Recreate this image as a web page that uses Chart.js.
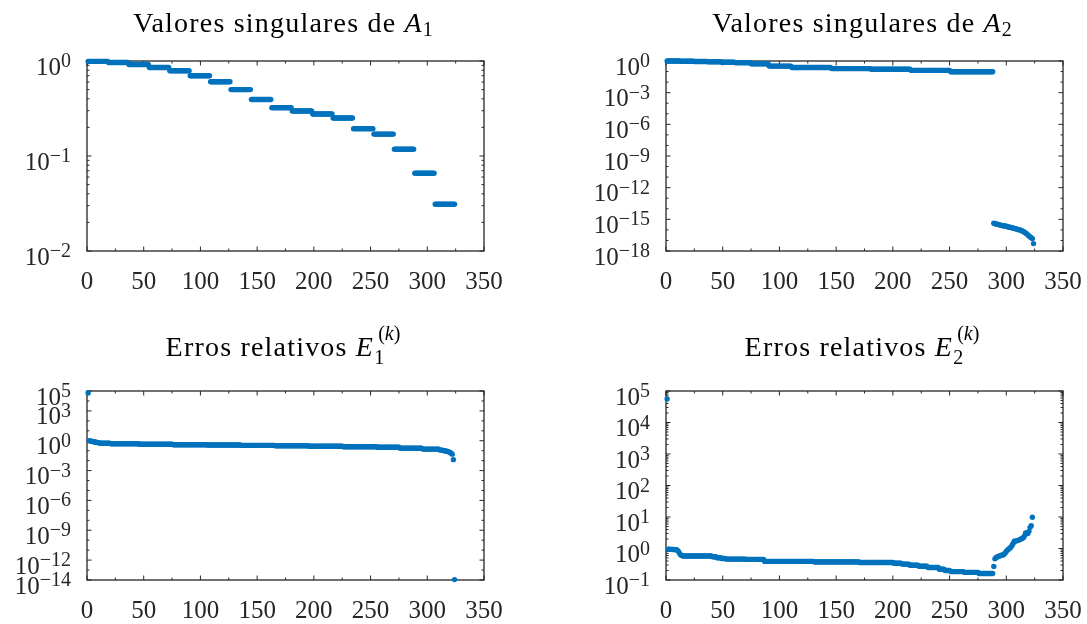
<!DOCTYPE html>
<html>
<head>
<meta charset="utf-8">
<script src="https://cdn.jsdelivr.net/npm/chart.js@4.4.1/dist/chart.umd.min.js"></script>
<style>
  body { margin: 0; background: #fff; }
  #wrap { position: relative; width: 1087px; height: 624px; overflow: hidden; }
  canvas { position: absolute; }
  .ttl { position: absolute; font-family: "Liberation Serif", serif; font-size: 28px; line-height: 28px;
         white-space: nowrap; color: #000; transform: translateX(-50%); letter-spacing: 1.2px; }
  .sb, .sp { font-size: 20px; position: relative; letter-spacing: 0; }
  .sb { top: 4px; }
  .sp { top: -16px; }
</style>
</head>
<body>
<div id="wrap">
  <canvas id="c1" width="543" height="312" style="left:0;top:0"></canvas>
  <canvas id="c2" width="544" height="312" style="left:543px;top:0"></canvas>
  <canvas id="c3" width="543" height="312" style="left:0;top:312px"></canvas>
  <canvas id="c4" width="544" height="312" style="left:543px;top:312px"></canvas>
  <div class="ttl" style="left:283px;top:9px">Valores singulares de <i>A</i><span class="sb">1</span></div>
  <div class="ttl" style="left:862px;top:9px">Valores singulares de <i>A</i><span class="sb">2</span></div>
  <div class="ttl" style="left:283px;top:333px">Erros relativos <i>E</i><span class="sb" style="top:8px">1</span><span class="sp" style="margin-left:-6px">(<i>k</i>)</span></div>
  <div class="ttl" style="left:862px;top:333px">Erros relativos <i>E</i><span class="sb" style="top:8px">2</span><span class="sp" style="margin-left:-6px">(<i>k</i>)</span></div>
</div>
<script>
// ticks do eixo x (igual nos 4 graficos)
const xTicks = [0, 50, 100, 150, 200, 250, 300, 350];
const xMinor = [25, 75, 125, 175, 225, 275, 325];

// valores singulares de A1: 18 patamares com 18 valores cada
const a1Count = [18, 18, 18, 18, 18, 18, 18, 18, 18, 18, 18, 18, 18, 18, 18, 18, 18, 18];
const a1Value = [0.99, 0.965, 0.92, 0.855, 0.79, 0.70, 0.605, 0.50, 0.393, 0.323, 0.298, 0.277,
                 0.251, 0.194, 0.170, 0.118, 0.066, 0.031];

// valores singulares de A2
const a2Count = [12, 12, 12, 12, 12, 14, 16, 20, 35, 35, 35, 35, 38,
                 1, 1, 1, 1, 1, 1, 1, 1, 1, 1, 1, 1, 1, 1, 1, 1, 1, 1, 1, 1,
                 1, 1, 1, 1, 1, 1, 1, 1, 1, 1, 1, 1, 1, 1, 1, 1];
const a2Value = [1.0, 0.95, 0.9, 0.85, 0.78, 0.70, 0.55, 0.33, 0.24, 0.19, 0.165, 0.13, 0.095,
                 4.2e-16, 3.9e-16, 3.6e-16, 3.4e-16, 3.2e-16, 3.0e-16, 2.8e-16, 2.7e-16,
                 2.5e-16, 2.4e-16, 2.3e-16, 2.2e-16, 2.0e-16, 1.9e-16, 1.8e-16, 1.7e-16,
                 1.6e-16, 1.5e-16, 1.4e-16, 1.3e-16, 1.2e-16, 1.1e-16, 1.05e-16, 1.0e-16,
                 9e-17, 8e-17, 7e-17, 6e-17, 5e-17, 4.2e-17, 3.4e-17, 2.7e-17, 2.2e-17,
                 1.8e-17, 1.5e-17, 5e-18];

// erros relativos E1
const e1Count = [1, 1, 1, 1, 1, 1, 1, 1, 1, 1, 1, 1, 8, 25, 30, 30, 30, 30, 30, 30, 30, 20, 20, 15,
                 1, 1, 1, 1, 1, 1, 1, 1, 1, 1, 1, 1, 1, 1];
const e1Value = [6.3e4, 1.0, 0.95, 0.9, 0.85, 0.8, 0.75, 0.7, 0.66, 0.63, 0.6, 0.58, 0.56, 0.50,
                 0.45, 0.40, 0.37, 0.34, 0.31, 0.28, 0.25, 0.22, 0.18, 0.145,
                 0.12, 0.115, 0.11, 0.105, 0.10, 0.095, 0.09, 0.085, 0.075, 0.065, 0.055,
                 0.045, 0.0125, 1.1e-14];

// erros relativos E2
const e2Count = [1, 1, 1, 1, 1, 1, 1, 1, 1, 1, 1, 1, 1, 1, 26, 4, 4, 4, 18, 16, 44, 40, 30, 7, 7,
                 8, 8, 10, 5, 5, 12, 13, 13,
                 1, 1, 1, 1, 1, 1, 1, 1, 1, 1, 1, 1, 1, 1, 1, 1, 1, 1,
                 1, 1, 1, 1, 1, 1, 1, 1, 1, 1, 1, 1, 1, 1, 1, 1, 1];
const e2Value = [5.6e4, 0.95, 0.95, 0.94, 0.94, 0.93, 0.93, 0.92, 0.91, 0.88, 0.8, 0.7, 0.62, 0.6,
                 0.575, 0.55, 0.51, 0.48, 0.46, 0.45, 0.39, 0.375, 0.36, 0.34, 0.32,
                 0.295, 0.275, 0.25, 0.22, 0.20, 0.185, 0.175, 0.16,
                 0.27, 0.47, 0.52, 0.54, 0.56, 0.58, 0.6, 0.61, 0.62, 0.66, 0.72, 0.8, 0.89,
                 0.95, 1.02, 1.09, 1.25, 1.45, 1.7, 1.72, 1.75, 1.78, 1.85, 1.92, 2.0, 2.1,
                 2.2, 2.5, 3.1, 3.05, 3.0, 3.5, 4.7, 5.3, 9.8];

function expand(counts, values) {
  const pts = [];
  let k = 1;
  counts.forEach((n, i) => {
    for (let j = 0; j < n; j++) pts.push({ x: k++, y: values[i] });
  });
  return pts;
}

// caixa, ticks para dentro e rotulos estilo matlab
const frame = {
  id: 'frame',
  beforeDatasetsDraw(chart, args, opts) {
    const ctx = chart.ctx, a = chart.chartArea;
    const xs = chart.scales.x, ys = chart.scales.y;
    ctx.save();
    ctx.strokeStyle = '#262626';
    ctx.lineWidth = 1;
    ctx.beginPath();
    const xTick = (v, len) => {
      const p = xs.getPixelForValue(v);
      ctx.moveTo(p, a.bottom); ctx.lineTo(p, a.bottom - len);
      ctx.moveTo(p, a.top); ctx.lineTo(p, a.top + len);
    };
    const yTick = (v, len) => {
      const p = ys.getPixelForValue(v);
      ctx.moveTo(a.left, p); ctx.lineTo(a.left + len, p);
      ctx.moveTo(a.right, p); ctx.lineTo(a.right - len, p);
    };
    xTicks.forEach(v => xTick(v, 4.5));
    xMinor.forEach(v => xTick(v, 2.5));
    opts.expo.forEach(e => yTick(Math.pow(10, e), 4.5));
    const lo = Math.round(Math.log10(ys.min)), hi = Math.round(Math.log10(ys.max));
    for (let d = lo; d < hi; d++) {
      if (opts.minor === 'sub') {
        for (let k = 2; k < 10; k++) yTick(k * Math.pow(10, d), 2.5);
      } else if (!opts.expo.includes(d)) {
        yTick(Math.pow(10, d), 2.5);
      }
    }
    ctx.stroke();
    ctx.lineWidth = 1.3;
    ctx.strokeRect(a.left, a.top, a.right - a.left, a.bottom - a.top);
    ctx.restore();
  },
  afterDraw(chart, args, opts) {
    const ctx = chart.ctx, a = chart.chartArea;
    const xs = chart.scales.x, ys = chart.scales.y;
    ctx.save();
    ctx.fillStyle = '#262626';
    ctx.textBaseline = 'alphabetic';
    ctx.font = '25px "Liberation Serif"';
    ctx.textAlign = 'center';
    xTicks.forEach(v => ctx.fillText(String(v), xs.getPixelForValue(v), a.bottom + 38));
    ctx.textAlign = 'right';
    opts.expo.forEach(e => {
      const p = ys.getPixelForValue(Math.pow(10, e));
      const sup = e < 0 ? '\u2212' + (-e) : String(e);
      const xr = a.left - 16;
      ctx.font = '20px "Liberation Serif"';
      const w = ctx.measureText(sup).width;
      ctx.fillText(sup, xr, p + 6);
      ctx.font = '25px "Liberation Serif"';
      ctx.fillText('10', xr - w, p + 13.5);
    });
    ctx.restore();
  }
};

function makePlot(id, pad, pts, yMin, yMax, expo, minor) {
  return new Chart(document.getElementById(id), {
    type: 'scatter',
    data: {
      datasets: [{
        data: pts,
        backgroundColor: '#0072BD',
        pointRadius: 2.7,
        pointHoverRadius: 2.7,
        pointBorderWidth: 0,
        clip: false
      }]
    },
    options: {
      responsive: false,
      animation: false,
      events: [],
      layout: { padding: pad },
      plugins: {
        legend: { display: false },
        tooltip: { enabled: false },
        frame: { expo: expo, minor: minor }
      },
      scales: {
        x: { type: 'linear', min: 0, max: 350, display: false },
        y: { type: 'logarithmic', min: yMin, max: yMax, display: false }
      }
    },
    plugins: [frame]
  });
}

makePlot('c1', { left: 87, top: 61, right: 59, bottom: 61 }, expand(a1Count, a1Value),
         1e-2, 1, [0, -1, -2], 'sub');
makePlot('c2', { left: 123, top: 61, right: 24, bottom: 61 }, expand(a2Count, a2Value),
         1e-18, 1, [0, -3, -6, -9, -12, -15, -18], 'decade');
makePlot('c3', { left: 87, top: 79, right: 59, bottom: 44 }, expand(e1Count, e1Value),
         1e-14, 1e5, [5, 3, 0, -3, -6, -9, -12, -14], 'decade');
makePlot('c4', { left: 123, top: 79, right: 24, bottom: 44 }, expand(e2Count, e2Value),
         1e-1, 1e5, [5, 4, 3, 2, 1, 0, -1], 'sub');
</script>
</body>
</html>
